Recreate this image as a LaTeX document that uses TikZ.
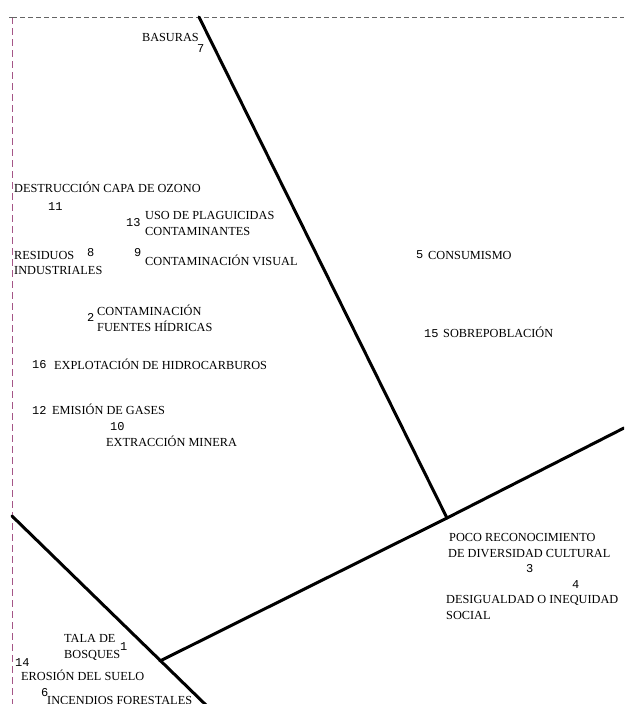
\documentclass[tikz,border=0pt]{standalone}
\usepackage{fontspec}
\setmainfont{Liberation Serif}
\setmonofont{Liberation Mono}
\usepackage{xcolor}
\usetikzlibrary{calc}
\definecolor{guidemag}{RGB}{165,85,135}
\definecolor{guidegray}{RGB}{100,100,100}
\tikzset{
  lbl/.style={anchor=base west,inner sep=0pt,font=\fontsize{12.3}{15}\selectfont},
  num/.style={anchor=base west,inner sep=0pt,font=\ttfamily\fontsize{12}{14}\selectfont},
  axis/.style={line width=3pt,line cap=round},
  guide/.style={line width=1pt,dash pattern=on 5pt off 3pt}
}

\begin{document}
\begin{tikzpicture}[line cap=butt,line join=round,x=1pt,y=-1pt]
                \useasboundingbox (0,0) rectangle (624,704);
                % guide lines
                \coordinate (g0) at (12,17);
                \coordinate (gr) at (624,17);
                \coordinate (gb) at (12,704);
                \draw [guide,color=guidegray] (g0)-- (gr);
                \draw [guide,color=guidemag,dash pattern=on 7pt off 4pt] (g0)-- (gb);
                \draw [line width=1pt,color=guidegray] (9,17)-- (15,17);
                % thick lines
                \coordinate (top) at (199,17);
                \coordinate (cross) at (447,518);
                \coordinate (right) at (624,428);
                \coordinate (join) at (160,661);
                \coordinate (left) at (12,516);
                \coordinate (bottom) at (208,707);
                \clip (0,0) rectangle (624,704);
                \draw [axis] (top)-- (cross);
                \draw [axis] (join)-- (cross)-- (right);
                \draw [axis] (left)-- (bottom);
                % labels
                \node[lbl,anchor=base east] (basuras) at (199,41) {BASURAS};
                \node[num] (n7) at (197,52) {7};
                \node[lbl] (ozono) at (14,192) {DESTRUCCIÓN CAPA DE OZONO};
                \node[num] (n11) at (48,210) {11};
                \node[num] (n13) at (126,226) {13};
                \node[lbl] (plag1) at (145,219) {USO DE PLAGUICIDAS};
                \node[lbl] (plag2) at (145,235) {CONTAMINANTES};
                \node[lbl] (resid1) at (14,259) {RESIDUOS};
                \node[num] (n8) at (87,256) {8};
                \node[lbl] (resid2) at (14,274) {INDUSTRIALES};
                \node[num] (n9) at (134,256) {9};
                \node[lbl] (visual) at (145,265) {CONTAMINACIÓN VISUAL};
                \node[num] (n2) at (87,321) {2};
                \node[lbl] (hidr1) at (97,315) {CONTAMINACIÓN};
                \node[lbl] (hidr2) at (97,331) {FUENTES HÍDRICAS};
                \node[num] (n16) at (32,368) {16};
                \node[lbl] (explot) at (54,369) {EXPLOTACIÓN DE HIDROCARBUROS};
                \node[num] (n12) at (32,414) {12};
                \node[lbl] (gases) at (52,414) {EMISIÓN DE GASES};
                \node[num] (n10) at (110,430) {10};
                \node[lbl] (minera) at (106,446) {EXTRACCIÓN MINERA};
                \node[num] (n5) at (416,258) {5};
                \node[lbl] (consum) at (428,259) {CONSUMISMO};
                \node[num] (n15) at (424,337) {15};
                \node[lbl] (sobre) at (443,337) {SOBREPOBLACIÓN};
                \node[lbl] (cult1) at (449,541) {POCO RECONOCIMIENTO};
                \node[lbl] (cult2) at (448,557) {DE DIVERSIDAD CULTURAL};
                \node[num] (n3) at (526,572) {3};
                \node[num] (n4) at (572,588) {4};
                \node[lbl] (desig1) at (446,603) {DESIGUALDAD O INEQUIDAD};
                \node[lbl] (desig2) at (446,619) {SOCIAL};
                \node[lbl] (tala1) at (64,642) {TALA DE};
                \node[lbl] (tala2) at (64,658) {BOSQUES};
                \node[num] (n1) at (120,650) {1};
                \node[num] (n14) at (15,666) {14};
                \node[lbl] (erosion) at (21,680) {EROSIÓN DEL SUELO};
                \node[num] (n6) at (41,696) {6};
                \node[lbl] (incend) at (47,704) {INCENDIOS FORESTALES};
            \end{tikzpicture}
\end{document}
